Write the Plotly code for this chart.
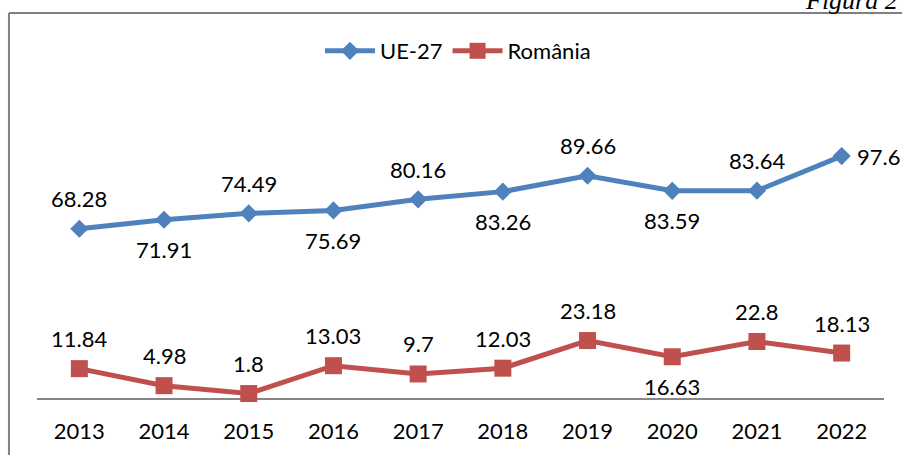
import plotly.graph_objects as go

years = ["2013", "2014", "2015", "2016", "2017", "2018", "2019", "2020", "2021", "2022"]
ue27 = [68.28, 71.91, 74.49, 75.69, 80.16, 83.26, 89.66, 83.59, 83.64, 97.6]
romania = [11.84, 4.98, 1.8, 13.03, 9.7, 12.03, 23.18, 16.63, 22.8, 18.13]
# label placement: "a" above, "b" below, "r" right
ue_pos = ["a", "b", "a", "b", "a", "b", "a", "b", "a", "r"]
ro_pos = ["a", "a", "a", "a", "a", "a", "a", "b", "a", "a"]

FONT = "Lato"
FS = 22
BLUE = "#4F81BD"
RED = "#C0504D"

fig = go.Figure()
fig.add_trace(go.Scatter(
    x=years, y=ue27, name="UE-27", mode="lines+markers",
    line=dict(color=BLUE, width=5),
    marker=dict(symbol="diamond", size=14, color=BLUE),
    cliponaxis=False, hoverinfo="skip",
))
fig.add_trace(go.Scatter(
    x=years, y=romania, name="România", mode="lines+markers",
    line=dict(color=RED, width=5),
    marker=dict(symbol="square", size=17, color=RED),
    cliponaxis=False, hoverinfo="skip",
))

annotations = []
for series, pos in ((ue27, ue_pos), (romania, ro_pos)):
    for i, (v, p) in enumerate(zip(series, pos)):
        # category axis: annotations use the category index
        a = dict(x=i, y=v, xref="x", yref="y", text=str(v), showarrow=False,
                 font=dict(family=FONT, size=FS, color="#000000"), yanchor="middle")
        if p == "a":
            a.update(xanchor="center", yshift=30)
        elif p == "b":
            a.update(xanchor="center", yshift=-30)
        else:
            a.update(xanchor="left", xshift=13)
        annotations.append(a)

annotations.append(dict(text="<i>Figura 2</i>", xref="paper", yref="paper", x=1.0189,
                        xanchor="right", y=1.098, yanchor="bottom", showarrow=False,
                        font=dict(family="Liberation Serif", size=26, color="#000000")))

fig.update_layout(
    width=902, height=455,
    margin=dict(l=37, r=18, t=51, b=57, autoexpand=False),
    paper_bgcolor="white", plot_bgcolor="white",
    font=dict(family=FONT, size=FS, color="#000000"),
    showlegend=True,
    legend=dict(orientation="h", x=0.497, xanchor="center", y=1.0, yanchor="middle",
                font=dict(family=FONT, size=FS), itemwidth=50, bgcolor="rgba(0,0,0,0)"),
    xaxis=dict(type="category", range=[-0.5, 9.5], showline=True, linecolor="#868686",
               linewidth=2, showgrid=False, zeroline=False, ticks="", ticklabelstandoff=13,
               tickfont=dict(family=FONT, size=FS), layer="below traces", fixedrange=True,
               automargin=False),
    yaxis=dict(range=[0, 140], visible=False, showgrid=False, zeroline=False, fixedrange=True,
               automargin=False),
    shapes=[
        dict(type="line", xref="paper", yref="paper", x0=-0.0331, x1=-0.0331, y0=1.1095, y1=-0.2,
             line=dict(color="#808080", width=2)),
        dict(type="line", xref="paper", yref="paper", x0=-0.0331, x1=1.03, y0=1.1095, y1=1.1095,
             line=dict(color="#808080", width=2)),
    ],
    annotations=annotations,
)

fig.write_html("out.html", config={"displayModeBar": False},
               post_script="document.body.style.margin='0';document.body.style.overflow='hidden';")
